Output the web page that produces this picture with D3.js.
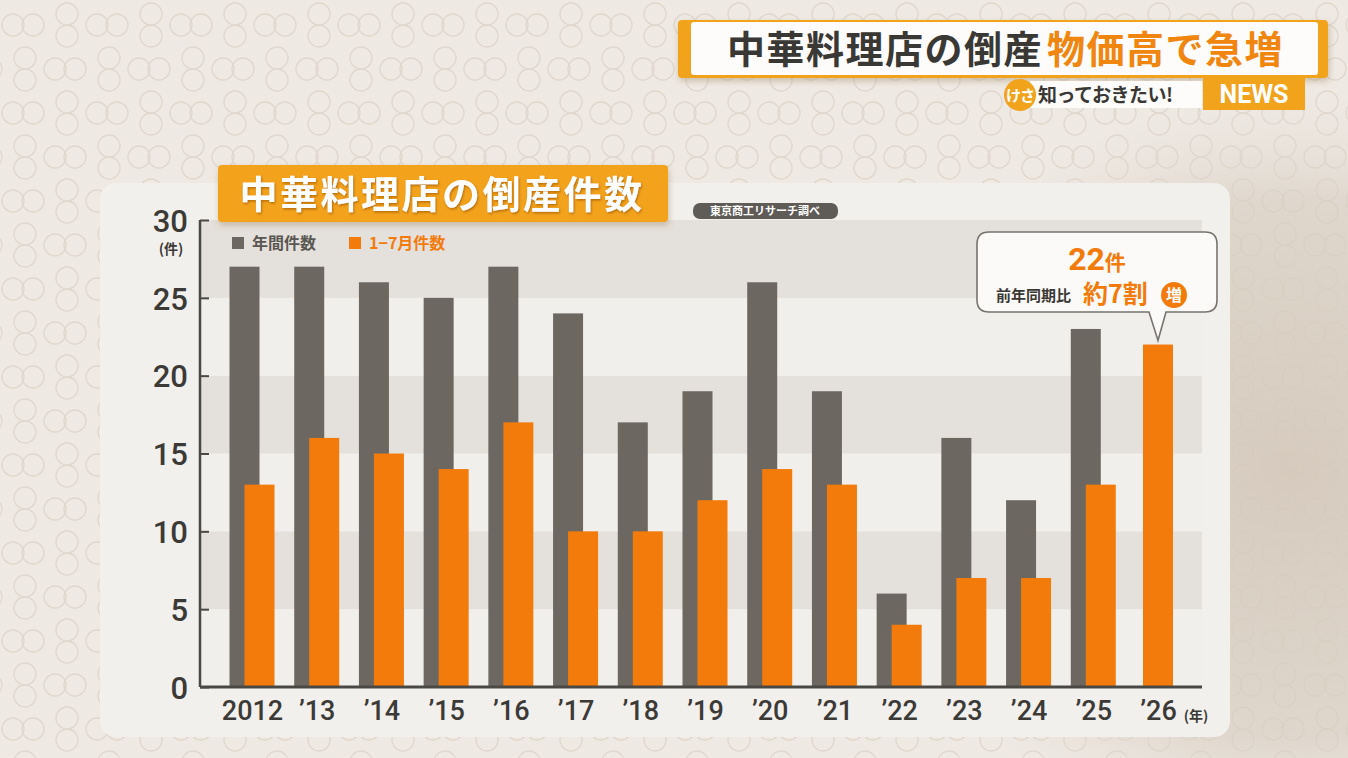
<!DOCTYPE html>
<html>
<head>
<meta charset="utf-8">
<script src="https://cdn.jsdelivr.net/npm/d3@7"></script>
<style>
  html, body { margin: 0; padding: 0; background: #ece6df; }
  svg { display: block; }
  .jp { font-family: "Noto Sans CJK JP", "Noto Sans", sans-serif; }
  .num { font-family: Roboto, "Noto Sans", sans-serif; }
</style>
</head>
<body>
<svg id="chart" width="1348" height="758"></svg>
<script>
// データ（東京商工リサーチ調べ）
const years = ["2012", "’13", "’14", "’15", "’16", "’17", "’18", "’19", "’20", "’21", "’22", "’23", "’24", "’25", "’26"];
const annual = [27, 27, 26, 25, 27, 24, 17, 19, 26, 19, 6, 16, 12, 23, null];
const janJul = [13, 16, 15, 14, 17, 10, 10, 12, 14, 13, 4, 7, 7, 13, 22];
const yTicks = [0, 5, 10, 15, 20, 25, 30];
const seriesNames = ["年間件数", "1−7月件数"];

const GRAY = "#6c6861";
const ORANGE = "#f27b0c";
const TEXT = "#3c3a37";

const svg = d3.select("#chart");
const defs = svg.append("defs");

const shade = defs.append("radialGradient").attr("id", "shade")
  .attr("cx", 0.5).attr("cy", 0.5).attr("r", 0.5);
shade.append("stop").attr("offset", "0%").attr("stop-color", "#d4c9bb").attr("stop-opacity", 0.95);
shade.append("stop").attr("offset", "70%").attr("stop-color", "#d8cec2").attr("stop-opacity", 0.7);
shade.append("stop").attr("offset", "100%").attr("stop-color", "#e6dfd6").attr("stop-opacity", 0);

const drop = defs.append("filter").attr("id", "drop").attr("x", "-10%").attr("y", "-20%").attr("width", "120%").attr("height", "150%");
drop.append("feDropShadow").attr("dx", 1).attr("dy", 3).attr("stdDeviation", 3).attr("flood-color", "#8a6a3a").attr("flood-opacity", 0.35);

const txtShadow = defs.append("filter").attr("id", "tshadow");
txtShadow.append("feDropShadow").attr("dx", 1).attr("dy", 1.5).attr("stdDeviation", 1).attr("flood-color", "#a05a00").attr("flood-opacity", 0.7);

// 背景と丸模様
svg.append("rect").attr("width", 1348).attr("height", 758).attr("fill", "#eee9e3");
const rings = svg.append("g").attr("fill", "none").attr("stroke", "#e0d8ce").attr("stroke-width", 1.3);
d3.range(0, 18).forEach(row => {
  const cy = 25 + row * 44;
  const shift = row % 2 ? 42 : 0;
  d3.range(-1, 17).forEach(col => {
    const cx = col * 84 + shift;
    rings.append("circle").attr("cx", cx + 13).attr("cy", cy).attr("r", 11);
    rings.append("circle").attr("cx", cx + 33).attr("cy", cy).attr("r", 11);
    rings.append("circle").attr("cx", cx + 67).attr("cy", cy - 11).attr("r", 11);
    rings.append("circle").attr("cx", cx + 67).attr("cy", cy + 11).attr("r", 11);
  });
});
svg.append("ellipse").attr("cx", 1290).attr("cy", 470).attr("rx", 420).attr("ry", 380).attr("fill", "url(#shade)");

// 上部の見出し
const head = svg.append("g");
head.append("rect").attr("x", 678).attr("y", 20).attr("width", 650).attr("height", 58).attr("rx", 4)
  .attr("fill", "#f2a31c").attr("filter", "url(#drop)");
head.append("rect").attr("x", 691).attr("y", 22).attr("width", 627).attr("height", 53).attr("rx", 3)
  .attr("fill", "#fdfcfa");
const headText = head.append("text").attr("class", "jp").attr("x", 727).attr("y", 63)
  .attr("font-size", 38).attr("font-weight", 700).attr("letter-spacing", 1.5);
headText.append("tspan").attr("fill", "#3a3835").text("中華料理店の倒産");
headText.append("tspan").attr("fill", "#f0860f").attr("dx", 4).text("物価高で急増");

head.append("rect").attr("x", 1030).attr("y", 81).attr("width", 172).attr("height", 27).attr("fill", "#fdfcfa");
head.append("circle").attr("cx", 1020).attr("cy", 95).attr("r", 16).attr("fill", "#f2a31c");
head.append("text").attr("class", "jp").attr("x", 1020).attr("y", 101).attr("text-anchor", "middle")
  .attr("font-size", 15).attr("font-weight", 700).attr("fill", "#fff").attr("letter-spacing", -1).text("けさ");
head.append("text").attr("class", "jp").attr("x", 1038).attr("y", 102)
  .attr("font-size", 19).attr("font-weight", 700).attr("fill", "#3a3835").attr("letter-spacing", -0.5).text("知っておきたい!");
head.append("rect").attr("x", 1203).attr("y", 78).attr("width", 102).attr("height", 32).attr("fill", "#f2a31c");
head.append("text").attr("class", "num").attr("x", 1254).attr("y", 103).attr("text-anchor", "middle")
  .attr("font-size", 25).attr("font-weight", 700).attr("fill", "#fff").text("NEWS");

// グラフのカード
svg.append("rect").attr("x", 100).attr("y", 183).attr("width", 1130).attr("height", 554).attr("rx", 16)
  .attr("fill", "#f2f0ed");

// スケール
const y = d3.scaleLinear().domain([0, 30]).range([687, 220]);
const x = d3.scalePoint().domain(years).range([252, 1158]);
const plotLeft = 200, plotRight = 1202;

// 横縞
const bandData = yTicks.slice(0, -1).map((t, i) => [t, yTicks[i + 1]]);
svg.append("g").selectAll("rect").data(bandData).enter().append("rect")
  .attr("x", plotLeft).attr("width", plotRight - plotLeft)
  .attr("y", d => y(d[1])).attr("height", d => y(d[0]) - y(d[1]))
  .attr("fill", (d, i) => i % 2 === 1 ? "#e4e0db" : "#f1efec");

// 棒
const gw = 30, ow = 30, off = 15;
svg.append("g").selectAll("rect").data(years.map((yr, i) => ({ yr, v: annual[i] })).filter(d => d.v != null))
  .enter().append("rect")
  .attr("x", d => x(d.yr) - 22.5).attr("width", gw)
  .attr("y", d => y(d.v)).attr("height", d => y(0) - y(d.v))
  .attr("fill", GRAY);
svg.append("g").selectAll("rect").data(years.map((yr, i) => ({ yr, v: janJul[i], solo: annual[i] == null })))
  .enter().append("rect")
  .attr("x", d => d.solo ? x(d.yr) - ow / 2 : x(d.yr) - 22.5 + off).attr("width", ow)
  .attr("y", d => y(d.v)).attr("height", d => y(0) - y(d.v))
  .attr("fill", ORANGE);

// 軸
const yAxis = svg.append("g").attr("transform", `translate(${plotLeft},0)`)
  .call(d3.axisLeft(y).tickValues(yTicks).tickSizeInner(-9).tickSizeOuter(0).tickPadding(12));
yAxis.select(".domain").attr("stroke", "#4a4845").attr("stroke-width", 2.5)
  .attr("d", `M0,${y(0)}V${y(30)}`);
yAxis.selectAll(".tick line").attr("stroke", "#4a4845").attr("stroke-width", 2);
yAxis.selectAll(".tick text").attr("class", "num").attr("font-size", 31).attr("font-weight", 500)
  .attr("fill", TEXT).attr("dy", "0.36em");
svg.append("text").attr("class", "jp").attr("x", 171).attr("y", 254).attr("text-anchor", "middle")
  .attr("font-size", 14).attr("font-weight", 700).attr("fill", TEXT).text("(件)");

const xAxis = svg.append("g").attr("transform", `translate(0,${y(0)})`)
  .call(d3.axisBottom(x).tickSize(0).tickPadding(14));
xAxis.select(".domain").remove();
xAxis.selectAll(".tick text").attr("class", "num").attr("font-size", 27).attr("font-weight", 500)
  .attr("fill", TEXT).attr("dy", "0.7em");
svg.append("line").attr("x1", plotLeft).attr("x2", plotRight).attr("y1", y(0)).attr("y2", y(0))
  .attr("stroke", "#4a4845").attr("stroke-width", 3);
svg.append("text").attr("class", "jp").attr("x", 1196).attr("y", 721).attr("text-anchor", "middle")
  .attr("font-size", 14).attr("font-weight", 700).attr("fill", TEXT).text("(年)");

// 凡例
const legend = svg.append("g").attr("class", "jp");
const legX = [232, 349];
seriesNames.forEach((name, i) => {
  legend.append("rect").attr("x", legX[i]).attr("y", 237).attr("width", 12).attr("height", 12)
    .attr("fill", i === 0 ? GRAY : ORANGE);
  legend.append("text").attr("x", legX[i] + 20).attr("y", 249).attr("font-size", 16).attr("font-weight", 700)
    .attr("fill", i === 0 ? "#5a5753" : ORANGE).text(name);
});

// グラフタイトル
svg.append("rect").attr("x", 218).attr("y", 165).attr("width", 450).attr("height", 57).attr("rx", 4)
  .attr("fill", "#f3a21b").attr("filter", "url(#drop)");
svg.append("text").attr("class", "jp").attr("x", 442).attr("y", 208).attr("text-anchor", "middle")
  .attr("font-size", 38).attr("font-weight", 700).attr("fill", "#fff").attr("letter-spacing", 2.5)
  .attr("filter", "url(#tshadow)").text("中華料理店の倒産件数");
svg.append("rect").attr("x", 693).attr("y", 203).attr("width", 145).attr("height", 16).attr("rx", 7)
  .attr("fill", "#5f5b56");
svg.append("text").attr("class", "jp").attr("x", 765).attr("y", 215).attr("text-anchor", "middle")
  .attr("font-size", 11).attr("font-weight", 700).attr("fill", "#fff").text("東京商工リサーチ調べ");

// 吹き出し
const last = years.length - 1;
const tipX = x(years[last]);
const call = svg.append("g");
call.append("path")
  .attr("d", `M989,232 H1205 Q1217,232 1217,244 V300 Q1217,312 1205,312 H1166 L${tipX},${y(janJul[last]) - 4} L1149,312 H989 Q977,312 977,300 V244 Q977,232 989,232 Z`)
  .attr("fill", "#fbfaf8").attr("stroke", "#77736e").attr("stroke-width", 1.6);
const big = call.append("text").attr("x", 1097).attr("y", 270).attr("text-anchor", "middle").attr("fill", ORANGE)
  .attr("font-weight", 700);
big.append("tspan").attr("class", "num").attr("font-size", 32).text(janJul[last]);
big.append("tspan").attr("class", "jp").attr("font-size", 21).text("件");
call.append("text").attr("class", "jp").attr("x", 996).attr("y", 301).attr("font-size", 15)
  .attr("font-weight", 700).attr("fill", "#3a3835").text("前年同期比");
call.append("text").attr("class", "jp").attr("x", 1083).attr("y", 303).attr("font-size", 25)
  .attr("font-weight", 700).attr("fill", ORANGE).text("約7割");
call.append("circle").attr("cx", 1174).attr("cy", 295).attr("r", 13).attr("fill", ORANGE);
call.append("text").attr("class", "jp").attr("x", 1174).attr("y", 301).attr("text-anchor", "middle")
  .attr("font-size", 16).attr("font-weight", 700).attr("fill", "#fff").text("増");
</script>
</body>
</html>
